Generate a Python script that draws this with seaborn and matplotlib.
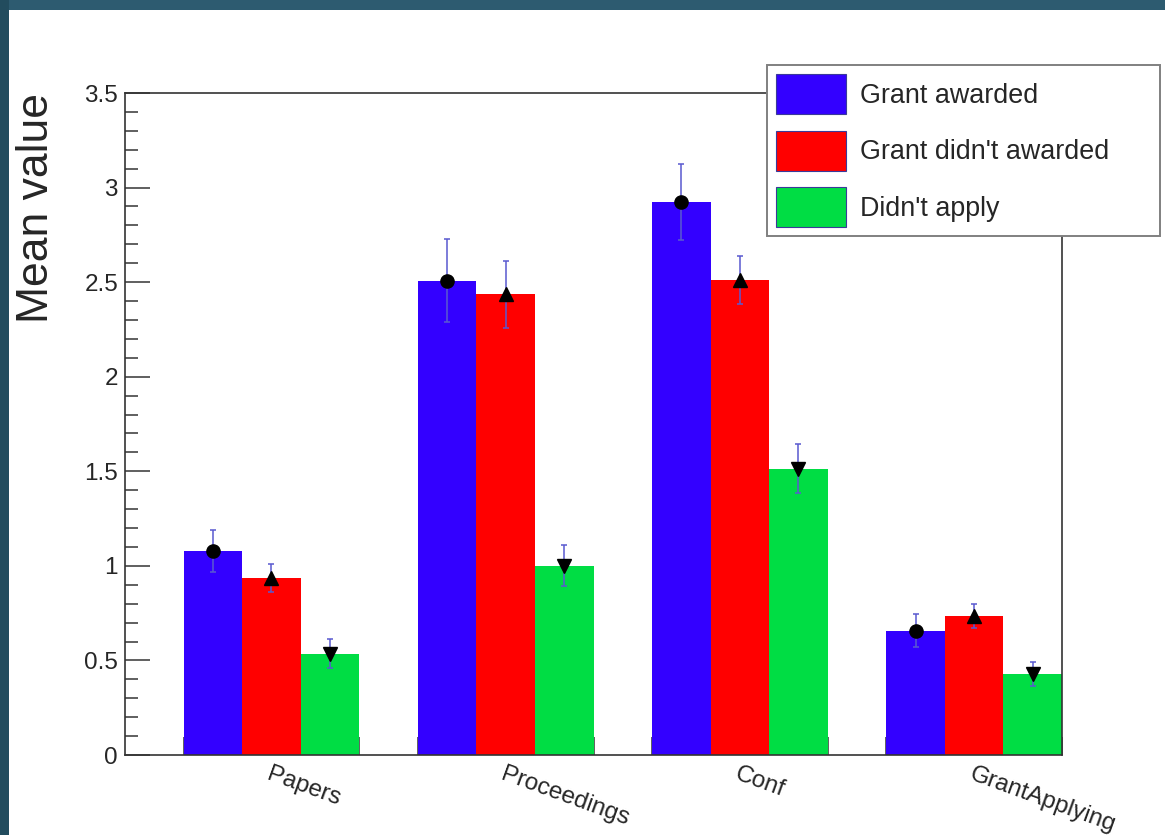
import numpy as np
import pandas as pd
import matplotlib
matplotlib.use("Agg")
import matplotlib.pyplot as plt
from matplotlib.patches import Rectangle
from matplotlib.container import BarContainer
from matplotlib.ticker import MultipleLocator, FixedLocator
import seaborn as sns

# values
categories = ["Papers", "Proceedings", "Conf", "GrantApplying"]
groups = ["Grant awarded", "Grant didn't awarded", "Didn't apply"]
colors = ["#3300ff", "#ff0000", "#00dd44"]
markers = ["o", "^", "v"]

awarded_mean = [1.077, 2.508, 2.924, 0.657]
awarded_err = [0.110, 0.220, 0.203, 0.088]
not_awarded_mean = [0.937, 2.436, 2.512, 0.735]
not_awarded_err = [0.073, 0.178, 0.126, 0.065]
no_apply_mean = [0.536, 1.000, 1.514, 0.427]
no_apply_err = [0.078, 0.108, 0.128, 0.063]

means = [awarded_mean, not_awarded_mean, no_apply_mean]
errs = [awarded_err, not_awarded_err, no_apply_err]

df = pd.DataFrame({
    "category": np.tile(categories, len(groups)),
    "group": np.repeat(groups, len(categories)),
    "mean": np.concatenate(means),
})

sns.set_style("white")
plt.rcParams["font.family"] = ["Liberation Sans", "DejaVu Sans"]

fig = plt.figure(figsize=(11.65, 8.35), dpi=100)
fig.patch.set_facecolor("white")
# dark frame around the slide (top and left)
fig.add_artist(Rectangle((0, 1 - 10 / 835), 1, 10 / 835, transform=fig.transFigure,
                         facecolor="#2d5b70", edgecolor="none", zorder=-5))
fig.add_artist(Rectangle((0, 0), 9 / 1165, 1, transform=fig.transFigure,
                         facecolor="#224c5e", edgecolor="none", zorder=-5))

ax = fig.add_axes([125 / 1165, 1 - 755 / 835, 937 / 1165, 662 / 835])

sns.barplot(data=df, x="category", y="mean", hue="group", order=categories,
            hue_order=groups, palette=colors, saturation=1, width=0.75,
            errorbar=None, linewidth=0, ax=ax)

# error bars + markers at the bar tops
bar_conts = [c for c in ax.containers if isinstance(c, BarContainer)]
for k, cont in enumerate(bar_conts):
    xs = [b.get_x() + b.get_width() / 2 for b in cont.patches]
    ax.errorbar(xs, means[k], yerr=errs[k], fmt="none", ecolor="#5a5ad0",
                elinewidth=1.3, capsize=2.5, capthick=1.3, alpha=0.85, zorder=4)
    ax.plot(xs, means[k], linestyle="none", marker=markers[k], color="black",
            markersize=9.5, zorder=5)

ax.set_xlim(-0.625, 3.375)
ax.set_ylim(0, 3.5)

# y axis, ROOT style
ax.set_yticks([0, 0.5, 1, 1.5, 2, 2.5, 3, 3.5])
ax.set_yticklabels(["0", "0.5", "1", "1.5", "2", "2.5", "3", "3.5"])
ax.yaxis.set_minor_locator(MultipleLocator(0.1))
ax.tick_params(axis="y", which="major", direction="in", length=18, width=1.2,
               color="#444444", labelsize=17.5, pad=5, left=True)
ax.tick_params(axis="y", which="minor", direction="in", length=9, width=1.2,
               color="#444444", left=True)

# x axis: labels at group centres, small ticks at group edges
edges = []
for i in range(len(categories)):
    edges += [i - 0.375, i + 0.375]
ax.set_xticks(range(len(categories)))
ax.set_xticklabels(categories)
ax.xaxis.set_minor_locator(FixedLocator(edges))
ax.tick_params(axis="x", which="major", length=0, labelsize=17.5, pad=6)
ax.tick_params(axis="x", which="minor", direction="in", length=13, width=1.2,
               color="#444444", bottom=True)
plt.setp(ax.get_xticklabels(), rotation=-20, ha="left", rotation_mode="anchor")

ax.set_xlabel("")
ax.set_ylabel("Mean value", fontsize=32, loc="top")
ax.yaxis.set_label_coords(-0.073, 1.0)

for s in ax.spines.values():
    s.set_visible(True)
    s.set_color("#333333")
    s.set_linewidth(1.2)

handles, labels = ax.get_legend_handles_labels()
if ax.get_legend() is not None:
    ax.get_legend().remove()
leg = fig.legend(handles, labels, loc="upper left",
                 bbox_to_anchor=(767 / 1165, 1 - 233 / 835, 393 / 1165, 168 / 835),
                 mode="expand", fontsize=19.4, frameon=True, fancybox=False,
                 framealpha=1, edgecolor="#808080", borderpad=0.35,
                 handlelength=2.6, handleheight=1.91, handletextpad=0.5,
                 labelspacing=0.6, borderaxespad=0)
leg.get_frame().set_linewidth(1.4)
for p in leg.get_patches():
    p.set_edgecolor("#3a3a9a")
    p.set_linewidth(0.8)

fig.savefig("out.png", dpi=100, facecolor=fig.get_facecolor())
